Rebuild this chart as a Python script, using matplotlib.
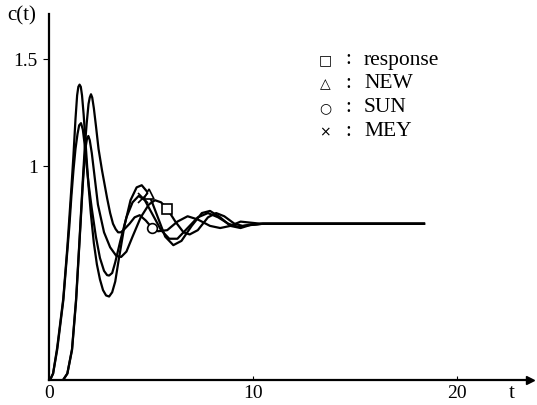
import matplotlib
matplotlib.use("Agg")
import matplotlib.pyplot as plt

# values (t, c(t))
t_new = [0.05, 0.2, 0.4, 0.7, 0.9, 1.1, 1.2, 1.3, 1.38, 1.44, 1.5, 1.56, 1.62, 1.7, 1.8, 1.92, 2.05, 2.2,
         2.35, 2.5, 2.65, 2.8, 2.95, 3.1, 3.25, 3.4, 3.7, 4.0, 4.3, 4.55, 4.9, 5.3, 5.7, 6.1, 6.5, 7.0,
         7.5, 7.9, 8.4, 8.9, 9.4, 9.9, 10.5, 18.4]
c_new = [0.0, 0.03, 0.15, 0.38, 0.62, 0.9, 1.05, 1.22, 1.33, 1.37, 1.38, 1.37, 1.33, 1.24, 1.1, 0.93, 0.78, 0.64,
         0.54, 0.47, 0.42, 0.395, 0.39, 0.41, 0.46, 0.55, 0.72, 0.84, 0.9, 0.91, 0.87, 0.77, 0.67, 0.63, 0.65, 0.72,
         0.78, 0.79, 0.76, 0.72, 0.71, 0.725, 0.73, 0.73]

t_mey = [0.05, 0.2, 0.4, 0.7, 1.0, 1.1, 1.2, 1.3, 1.4, 1.48, 1.57, 1.66, 1.75, 1.85, 1.95, 2.1, 2.3, 2.5,
         2.7, 2.85, 2.95, 3.1, 3.25, 3.5, 3.8, 4.1, 4.4, 4.7, 5.1, 5.5, 5.9, 6.3, 6.8, 7.3, 7.8, 8.3,
         8.8, 9.3, 9.8, 10.4, 18.4]
c_mey = [0.0, 0.03, 0.14, 0.37, 0.72, 0.86, 0.98, 1.08, 1.15, 1.19, 1.2, 1.17, 1.1, 1.0, 0.91, 0.8, 0.67, 0.57,
         0.51, 0.49, 0.488, 0.5, 0.55, 0.65, 0.76, 0.83, 0.86, 0.84, 0.77, 0.7, 0.66, 0.66, 0.71, 0.76, 0.78, 0.76,
         0.73, 0.715, 0.725, 0.73, 0.73]

t_sun = [0.69, 0.9, 1.13, 1.33, 1.5, 1.65, 1.75, 1.85, 1.94, 2.0, 2.06, 2.12, 2.2, 2.3, 2.43, 2.6, 2.85,
         3.0, 3.14, 3.27, 3.39, 3.52, 3.65, 3.95, 4.2, 4.45, 4.75, 5.06, 5.35, 5.8, 6.3, 6.8, 7.3, 7.9,
         8.4, 8.9, 9.4, 9.9, 10.4, 18.4]
c_sun = [0.0, 0.03, 0.145, 0.38, 0.66, 0.92, 1.08, 1.2, 1.29, 1.32, 1.335, 1.32, 1.27, 1.19, 1.08, 0.98, 0.85,
         0.78, 0.73, 0.705, 0.69, 0.69, 0.7, 0.73, 0.76, 0.77, 0.745, 0.71, 0.695, 0.7, 0.74, 0.765, 0.75, 0.72,
         0.71, 0.72, 0.74, 0.735, 0.73, 0.73]

t_resp = [0.69, 0.9, 1.13, 1.33, 1.5, 1.65, 1.72, 1.8, 1.87, 1.93, 2.0, 2.1, 2.2, 2.4, 2.7, 3.0, 3.3, 3.54,
          3.8, 4.1, 4.5, 4.9, 5.2, 5.5, 5.8, 6.2, 6.6, 6.9, 7.3, 7.8, 8.2, 8.6, 9.1, 9.5, 10.0, 10.5, 18.4]
c_resp = [0.0, 0.03, 0.14, 0.37, 0.65, 0.9, 1.0, 1.09, 1.13, 1.14, 1.12, 1.06, 0.98, 0.82, 0.69, 0.62, 0.58,
          0.575, 0.6, 0.67, 0.76, 0.82, 0.84, 0.83, 0.8, 0.74, 0.69, 0.68, 0.7, 0.76, 0.78, 0.765, 0.73, 0.72,
          0.725, 0.73, 0.73]

# marker positions on each curve
mark_t = {"resp": 5.8, "new": 4.9, "sun": 5.06, "mey": 4.62}
mark_c = {"resp": 0.80, "new": 0.87, "sun": 0.71, "mey": 0.85}

serif = ["Liberation Serif", "DejaVu Serif"]
sym = ["DejaVu Sans"]

fig = plt.figure(figsize=(5.37, 4.06), dpi=100)
ax = fig.add_axes([49 / 537, 25 / 406, 481 / 537, 366 / 406])

for t, c in [(t_new, c_new), (t_mey, c_mey), (t_sun, c_sun), (t_resp, c_resp)]:
    ax.plot(t, c, color="black", lw=1.6, solid_joinstyle="round")

mk = dict(color="black", mfc="white", mec="black", mew=1.2, ls="none")
ax.plot(mark_t["resp"], mark_c["resp"], marker="s", ms=7, **mk)
ax.plot(mark_t["new"], mark_c["new"], marker="^", ms=7, **mk)
ax.plot(mark_t["sun"], mark_c["sun"], marker="o", ms=7, **mk)
ax.plot(mark_t["mey"], mark_c["mey"], marker="x", ms=7, **mk)

ax.set_xlim(0, 23.6)
ax.set_ylim(0, 1.71)
for s in ["top", "right"]:
    ax.spines[s].set_visible(False)
for s in ["left", "bottom"]:
    ax.spines[s].set_linewidth(1.6)

ax.set_xticks([0, 10, 20])
ax.set_xticklabels(["0", "10", "20"], fontfamily=serif, fontsize=14)
ax.set_yticks([1, 1.5])
ax.set_yticklabels(["1", "1.5"], fontfamily=serif, fontsize=14)
ax.tick_params(axis="x", direction="in", length=3, pad=3)
ax.tick_params(axis="y", direction="out", length=4, pad=4)

# arrow head on the t axis
ax.plot(1, 0, marker=">", color="black", ms=6, transform=ax.get_yaxis_transform(), clip_on=False)

fig.text(7 / 537, 1 - 16 / 406, "c(t)", fontfamily=serif, fontsize=15, va="center", ha="left")
fig.text(512 / 537, 1 - 394 / 406, "t", fontfamily=serif, fontsize=15, va="center", ha="center")

legend_rows = [("\u25a1", "response"), ("\u25b3", "NEW"), ("\u25cb", "SUN"), ("\u00d7", "MEY")]
for i, (s, name) in enumerate(legend_rows):
    y = 1 - (60 + i * 24) / 406
    fig.text(325 / 537, y, s, fontfamily=sym, fontsize=10, va="center", ha="center")
    fig.text(348 / 537, y, ":", fontfamily=serif, fontsize=15, va="center", ha="center")
    fig.text(364 / 537, y, name, fontfamily=serif, fontsize=15.5, va="center", ha="left")

fig.savefig("out.png", dpi=100)
